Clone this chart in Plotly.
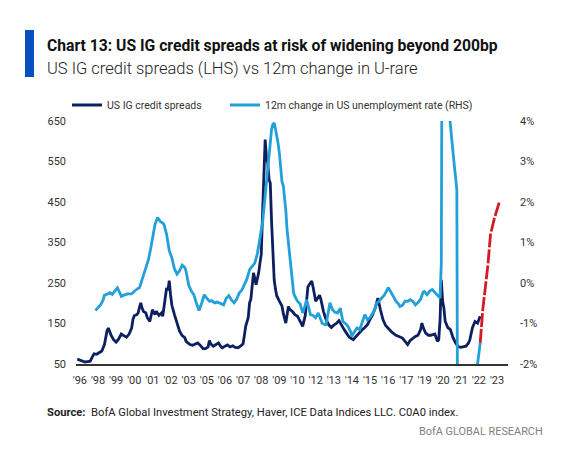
import pandas as pd
import plotly.graph_objects as go

# US IG credit spreads (bp, LHS)
spread_dates = [
    "1996-10", "1996-12", "1997-02", "1997-04", "1997-06", "1997-08", "1997-10", "1997-11",
    "1998-01", "1998-03", "1998-05", "1998-07", "1998-08", "1998-09", "1998-10", "1998-11",
    "1998-12", "1999-02", "1999-04", "1999-06", "1999-08", "1999-10", "1999-12", "2000-02",
    "2000-04", "2000-05", "2000-06", "2000-08", "2000-09", "2000-10", "2000-11", "2000-12",
    "2001-01", "2001-03", "2001-04", "2001-06", "2001-07", "2001-08", "2001-10", "2001-11",
    "2002-01", "2002-03", "2002-04", "2002-05", "2002-06", "2002-07", "2002-08", "2002-09",
    "2002-10", "2002-11", "2003-01", "2003-03", "2003-05", "2003-07", "2003-09", "2003-10",
    "2004-01", "2004-03", "2004-05", "2004-07", "2004-09", "2004-11", "2005-01", "2005-03",
    "2005-04", "2005-05", "2005-07", "2005-09", "2005-11", "2006-01", "2006-02", "2006-04",
    "2006-06", "2006-08", "2006-10", "2006-12", "2007-02", "2007-04", "2007-06", "2007-07",
    "2007-08", "2007-10", "2007-11", "2007-12", "2008-01", "2008-02", "2008-03", "2008-04",
    "2008-05", "2008-06", "2008-07", "2008-08", "2008-09", "2008-10", "2008-11", "2008-12",
    "2009-01", "2009-02", "2009-03", "2009-04", "2009-05", "2009-06", "2009-07", "2009-08",
    "2009-10", "2009-12", "2010-01", "2010-03", "2010-05", "2010-06", "2010-08", "2010-10",
    "2010-12", "2011-02", "2011-04", "2011-06", "2011-08", "2011-09", "2011-11", "2011-12",
    "2012-02", "2012-05", "2012-06", "2012-08", "2012-10", "2012-12", "2013-02", "2013-04",
    "2013-06", "2013-08", "2013-10", "2013-12", "2014-02", "2014-04", "2014-07", "2014-09",
    "2014-11", "2015-02", "2015-04", "2015-06", "2015-08", "2015-10", "2015-12", "2016-02",
    "2016-04", "2016-06", "2016-08", "2016-11", "2017-01", "2017-04", "2017-06", "2017-09",
    "2017-11", "2018-01", "2018-03", "2018-05", "2018-07", "2018-09", "2018-11", "2018-12",
    "2019-01", "2019-03", "2019-05", "2019-07", "2019-10", "2019-12", "2020-01", "2020-02",
    "2020-03", "2020-04", "2020-05", "2020-06", "2020-08", "2020-10", "2020-12", "2021-02",
    "2021-04", "2021-06", "2021-08", "2021-10", "2021-12", "2022-01", "2022-03", "2022-05",
    "2022-07", "2022-09",
]
spread_bp = [
    62, 60, 58, 55, 56, 57, 70, 75,
    74, 77, 82, 98, 118, 132, 139, 128,
    122, 110, 104, 112, 124, 120, 116, 124,
    139, 160, 169, 172, 176, 190, 201, 188,
    180, 176, 165, 155, 170, 184, 172, 180,
    170, 176, 168, 188, 215, 238, 232, 256,
    221, 195, 172, 150, 131, 120, 115, 106,
    98, 96, 100, 102, 96, 88, 88, 92,
    108, 100, 94, 98, 102, 92, 90, 94,
    97, 92, 95, 91, 90, 94, 100, 120,
    143, 165, 201, 210, 240, 275, 262, 246,
    260, 275, 299, 320, 423, 520, 604, 560,
    546, 505, 497, 400, 330, 258, 235, 218,
    205, 193, 175, 151, 192, 185, 180, 172,
    168, 155, 143, 170, 240, 246, 255, 240,
    205, 220, 210, 180, 160, 147, 140, 146,
    150, 157, 145, 135, 125, 116, 110, 118,
    124, 135, 140, 147, 160, 172, 188, 213,
    184, 159, 145, 135, 128, 121, 118, 114,
    106, 98, 108, 114, 118, 121, 135, 151,
    140, 126, 121, 121, 124, 106, 110, 160,
    258, 205, 188, 155, 140, 135, 115, 102,
    93, 91, 93, 94, 102, 110, 139, 155,
    151, 168,
]

# 12m change in US unemployment rate (%, RHS)
urate_dates = [
    "1997-12", "1998-02", "1998-04", "1998-06", "1998-07", "1998-09", "1998-11", "1999-01",
    "1999-03", "1999-05", "1999-07", "1999-08", "1999-10", "2000-01", "2000-04", "2000-06",
    "2000-08", "2000-10", "2000-12", "2001-02", "2001-04", "2001-05", "2001-07", "2001-08",
    "2001-10", "2001-12", "2002-02", "2002-04", "2002-05", "2002-07", "2002-09", "2002-11",
    "2003-01", "2003-03", "2003-05", "2003-07", "2003-09", "2003-10", "2003-12", "2004-02",
    "2004-04", "2004-06", "2004-08", "2004-10", "2004-12", "2005-02", "2005-04", "2005-06",
    "2005-08", "2005-10", "2006-01", "2006-03", "2006-05", "2006-07", "2006-09", "2006-11",
    "2007-01", "2007-03", "2007-05", "2007-07", "2007-09", "2007-11", "2008-01", "2008-03",
    "2008-05", "2008-06", "2008-07", "2008-08", "2008-09", "2008-10", "2008-11", "2008-12",
    "2009-01", "2009-02", "2009-03", "2009-04", "2009-05", "2009-06", "2009-07", "2009-08",
    "2009-09", "2009-10", "2009-11", "2009-12", "2010-01", "2010-02", "2010-03", "2010-04",
    "2010-05", "2010-06", "2010-07", "2010-08", "2010-09", "2010-10", "2010-12", "2011-02",
    "2011-04", "2011-06", "2011-07", "2011-09", "2011-10", "2011-12", "2012-02", "2012-04",
    "2012-06", "2012-07", "2012-09", "2012-10", "2013-01", "2013-03", "2013-05", "2013-07",
    "2013-09", "2013-11", "2014-01", "2014-03", "2014-05", "2014-06", "2014-08", "2014-10",
    "2014-12", "2015-02", "2015-03", "2015-04", "2015-06", "2015-08", "2015-10", "2015-11",
    "2016-01", "2016-03", "2016-05", "2016-07", "2016-09", "2016-10", "2016-12", "2017-02",
    "2017-04", "2017-06", "2017-07", "2017-09", "2017-11", "2018-01", "2018-03", "2018-05",
    "2018-07", "2018-09", "2018-11", "2019-01", "2019-02", "2019-04", "2019-06", "2019-08",
    "2019-10", "2019-12", "2020-02", "2020-03", "2020-04", "2020-05", "2020-06", "2020-07",
    "2020-08", "2020-09", "2020-10", "2020-11", "2020-12", "2021-01", "2021-02", "2021-03",
    "2021-04", "2021-06", "2021-08", "2021-10", "2021-12", "2022-02", "2022-04", "2022-06",
    "2022-07", "2022-09",
]
urate_chg = [
    -0.68, -0.62, -0.54, -0.42, -0.30, -0.28, -0.24, -0.28,
    -0.20, -0.12, -0.25, -0.33, -0.30, -0.27, -0.27, -0.20,
    -0.15, -0.12, 0.10, 0.29, 0.50, 0.58, 0.90, 1.11,
    1.45, 1.62, 1.52, 1.48, 1.44, 1.20, 0.80, 0.62,
    0.35, 0.22, 0.30, 0.44, 0.38, 0.29, -0.05, -0.20,
    -0.29, -0.50, -0.68, -0.50, -0.29, -0.38, -0.45, -0.44,
    -0.49, -0.47, -0.52, -0.54, -0.38, -0.31, -0.42, -0.49,
    -0.40, -0.25, -0.18, -0.04, 0.10, 0.33, 0.42, 0.49,
    0.72, 0.90, 1.10, 1.23, 1.50, 1.81, 2.15, 2.35,
    2.80, 3.10, 3.50, 3.80, 3.92, 3.95, 3.80, 3.65,
    3.45, 3.20, 2.90, 2.50, 2.40, 2.14, 1.80, 1.30,
    1.00, 0.70, 0.25, 0.00, -0.25, -0.33, -0.45, -0.52,
    -0.74, -0.55, -0.41, -0.65, -0.78, -0.80, -0.86, -0.74,
    -0.91, -0.99, -1.03, -1.03, -0.49, -0.66, -0.72, -0.74,
    -0.62, -0.95, -1.00, -1.07, -1.20, -1.32, -1.20, -1.11,
    -1.15, -0.95, -0.85, -0.78, -0.91, -0.85, -0.75, -0.70,
    -0.50, -0.45, -0.37, -0.30, -0.18, -0.11, -0.22, -0.35,
    -0.45, -0.52, -0.58, -0.55, -0.45, -0.45, -0.41, -0.45,
    -0.54, -0.48, -0.40, -0.22, -0.21, -0.29, -0.20, -0.16,
    -0.24, -0.30, -0.37, 0.50, 11.0, 9.6, 7.4, 6.5,
    4.9, 4.3, 3.9, 3.5, 3.1, 2.9, 2.6, 2.3,
    -8.7, -5.3, -3.5, -2.6, -2.9, -2.6, -2.5, -2.4,
    -2.0, -1.48,
]

# projection of the 12m change (RHS, red dashed)
proj_dates = ["2022-09", "2022-11", "2023-01", "2023-03", "2023-05", "2023-08", "2023-12"]
proj_chg = [-1.48, -0.65, -0.10, 0.45, 1.20, 1.60, 2.02]

x_labels = ["'96", "'98", "'99", "'00", "'01", "'02", "'03", "'05", "'06", "'07", "'08", "'09",
            "'10", "'12", "'13", "'14", "'15", "'16", "'17", "'19", "'20", "'21", "'22", "'23"]
lhs_ticks = [50, 150, 250, 350, 450, 550, 650]
rhs_ticks = [-2, -1, 0, 1, 2, 3, 4]
rhs_labels = ["-2%", "-1%", "0%", "1%", "2%", "3%", "4%"]

NAVY = "#0c1f5f"
LIGHT = "#23a0d9"
RED = "#d41a22"
FONT = "Roboto, Liberation Sans, sans-serif"
TXT = "#333333"

W, H = 563, 455
L, R, T, B = 68, 63, 113, 99
pw, ph = W - L - R, H - T - B

def px(x):
    return (x - L) / pw

def py(y):
    return (H - B - y) / ph

x_ticks = pd.date_range("1996-12-01", periods=len(x_labels), freq="14MS")

fig = go.Figure()
fig.add_trace(go.Scatter(x=pd.to_datetime(urate_dates), y=urate_chg, yaxis="y2", mode="lines",
                         name="12m change in US unemployment rate (RHS)", legend="legend2",
                         line=dict(color=LIGHT, width=2.8)))
fig.add_trace(go.Scatter(x=pd.to_datetime(spread_dates), y=spread_bp, mode="lines",
                         name="US IG credit spreads", legend="legend",
                         line=dict(color=NAVY, width=2.8)))
fig.add_trace(go.Scatter(x=pd.to_datetime(proj_dates), y=proj_chg, yaxis="y2", mode="lines",
                         showlegend=False,
                         line=dict(color=RED, width=2.8, dash="14px,2px")))

leg = dict(orientation="h", yanchor="middle", xanchor="left", itemwidth=30,
           bgcolor="rgba(0,0,0,0)", font=dict(family=FONT, size=10.5, color=TXT))

fig.update_layout(
    width=W, height=H,
    margin=dict(l=L, r=R, t=T, b=B),
    paper_bgcolor="white", plot_bgcolor="white",
    font=dict(family=FONT, size=11, color=TXT),
    showlegend=True,
    legend=dict(leg, x=px(59), y=py(97)),
    legend2=dict(leg, x=px(217), y=py(97)),
    xaxis=dict(type="date", range=["1996-09-01", "2024-06-15"],
               tickvals=x_ticks, ticktext=x_labels, ticks="", tickangle=0,
               ticklabelstandoff=5, showgrid=False, zeroline=False, showline=True,
               linecolor="#333333", linewidth=1.5, tickfont=dict(size=11, color=TXT)),
    yaxis=dict(range=[50, 650], tickvals=lhs_ticks, ticks="", showgrid=False,
               zeroline=False, showline=False, ticklabelstandoff=9,
               tickfont=dict(size=11, color=TXT)),
    yaxis2=dict(range=[-2, 4], tickvals=rhs_ticks, ticktext=rhs_labels, overlaying="y",
                side="right", ticks="", showgrid=False, zeroline=False, showline=False,
                ticklabelstandoff=11, tickfont=dict(size=11, color=TXT)),
)

fig.add_shape(type="rect", xref="paper", yref="paper",
              x0=px(17), x1=px(26), y0=py(69), y1=py(22),
              fillcolor="#0a4fc2", line=dict(width=0), layer="above")

fig.add_annotation(xref="paper", yref="paper", x=px(37), y=py(37), xanchor="left",
                   yanchor="middle", showarrow=False,
                   text="<b>Chart 13: US IG credit spreads at risk of widening beyond 200bp</b>",
                   font=dict(family=FONT, size=15.7, color="#111111"))
fig.add_annotation(xref="paper", yref="paper", x=px(37), y=py(60), xanchor="left",
                   yanchor="middle", showarrow=False,
                   text="US IG credit spreads (LHS) vs 12m change in U-rare",
                   font=dict(family=FONT, size=16.5, color="#222222", weight=300))
fig.add_annotation(xref="paper", yref="paper", x=px(37), y=py(404), xanchor="left",
                   yanchor="middle", showarrow=False,
                   text="<b>Source:</b>  BofA Global Investment Strategy, Haver, ICE Data Indices LLC. C0A0 index.",
                   font=dict(family=FONT, size=11.2, color="#222222"))
fig.add_annotation(xref="paper", yref="paper", x=px(537), y=py(423), xanchor="right",
                   yanchor="middle", showarrow=False,
                   text="BofA GLOBAL RESEARCH",
                   font=dict(family=FONT, size=10.9, color="#808080"))

fig.write_html("out.html")
